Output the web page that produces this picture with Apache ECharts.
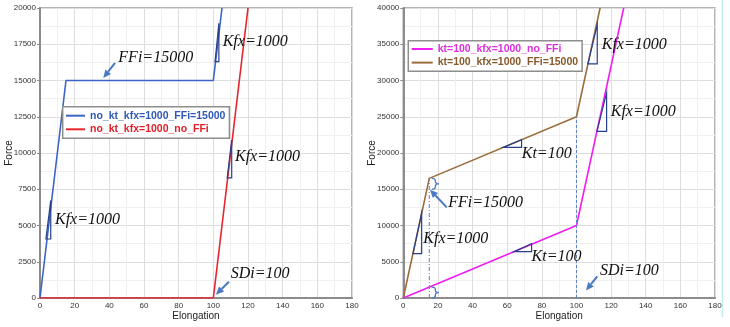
<!DOCTYPE html>
<html>
<head>
<meta charset="utf-8">
<script src="https://cdn.jsdelivr.net/npm/echarts@6/dist/echarts.min.js"></script>
<style>
  html, body { margin: 0; padding: 0; background: #fff; }
  #chart { width: 730px; height: 327px; }
</style>
</head>
<body>
<div id="chart"></div>
<script>
// ---- Force vs. elongation curves ----
const blueName = 'no_kt_kfx=1000_FFi=15000';
const blueElong = [0, 15, 100, 105];
const blueForce = [0, 15000, 15000, 20000];

const redName = 'no_kt_kfx=1000_no_FFi';
const redElong = [0, 100, 120];
const redForce = [0, 0, 20000];

const magentaName = 'kt=100_kfx=1000_no_FFi';
const magentaElong = [0, 100, 127.27];
const magentaForce = [0, 10000, 40000];

const brownName = 'kt=100_kfx=1000_FFi=15000';
const brownElong = [0, 15, 100, 113.64];
const brownForce = [0, 16500, 25000, 40000];

// ---- axis ranges ----
const elongMax = 180, elongStep = 20;
const leftForceMax = 20000, leftForceStep = 2500;
const rightForceMax = 40000, rightForceStep = 5000;

// ---- annotations, in (elongation, force) units ----
// slope triangles: [x0, y0, x1, y1]
const leftTriangles = [[3.4, 4070, 6.2, 6730], [101.0, 16300, 103.2, 18950], [108.0, 8280, 110.6, 10900]];
const rightTriangles = [[5.6, 6110, 10.6, 11720], [57.7, 20770, 68.3, 21830], [64.0, 6400, 74.1, 7500],
                        [106.6, 32280, 112.0, 37700], [111.8, 22980, 117.4, 28280]];
// text labels: [text, x, y]
const leftLabels = [['FFi=15000', 45.2, 16570], ['Kfx=1000', 105.4, 17680], ['Kfx=1000', 112.5, 9745],
                    ['Kfx=1000', 8.65, 5400], ['SDi=100', 110.0, 1676]];
const rightLabels = [['Kt=100', 68.4, 19900], ['Kt=100', 74.1, 5630], ['FFi=15000', 26.0, 13150],
                     ['Kfx=1000', 11.55, 8180], ['Kfx=1000', 114.6, 34870], ['Kfx=1000', 119.8, 25700],
                     ['SDi=100', 113.6, 3770]];
// arrows: [fromX, fromY, toX, toY]
const leftArrows = [[43.3, 16210, 36.5, 15170], [109.0, 1124, 101.5, 228]];
const rightArrows = [[25.1, 12500, 15.4, 14940], [112.0, 2980, 105.5, 1050]];
// dashed guides: [x, topForce]
const rightGuides = [[15, 16500, 'dashdot'], [100, 25000, 'dash']];
// braces: [x, lowForce, highForce]
const rightBraces = [[16.5, 15000, 16500], [16.5, 0, 1500]];

const zip = (xs, ys) => xs.map((x, i) => [x, ys[i]]);

const C = {
  blue: '#3c64c6', blueText: '#2f58b8',
  red: '#e8242c', redText: '#e0202a',
  magenta: '#f01ef0', magentaText: '#e02ee0',
  brown: '#9c6c3c', brownText: '#86592a',
  tri: '#27408c', arrow: '#4a78c2', guide: '#5a80c6'
};
const noteFont = 'italic 16px "Liberation Serif", "DejaVu Serif", serif';

function triangleRender(list) {
  return function (params, api) {
    const t = list[params.dataIndex];
    const a = api.coord([t[0], t[1]]), b = api.coord([t[2], t[1]]), c = api.coord([t[2], t[3]]);
    return { type: 'polygon', shape: { points: [a, b, c] },
             style: { fill: 'none', stroke: C.tri, lineWidth: 1.2 } };
  };
}
function labelRender(list) {
  return function (params, api) {
    const l = list[params.dataIndex];
    const p = api.coord([l[1], l[2]]);
    return { type: 'text', x: p[0], y: p[1],
             style: { text: l[0], font: noteFont, fill: '#111', align: 'left', verticalAlign: 'middle' } };
  };
}
function arrowRender(list) {
  return function (params, api) {
    const a = list[params.dataIndex];
    const p = api.coord([a[0], a[1]]), q = api.coord([a[2], a[3]]);
    const dx = q[0] - p[0], dy = q[1] - p[1], len = Math.hypot(dx, dy);
    const ux = dx / len, uy = dy / len, hl = 8, hw = 3.6;
    const bx = q[0] - ux * hl, by = q[1] - uy * hl;
    return { type: 'group', children: [
      { type: 'line', shape: { x1: p[0], y1: p[1], x2: bx, y2: by }, style: { stroke: C.arrow, lineWidth: 2 } },
      { type: 'polygon', shape: { points: [q, [bx - uy * hw, by + ux * hw], [bx + uy * hw, by - ux * hw]] },
        style: { fill: C.arrow } }
    ] };
  };
}
function guideRender(list) {
  return function (params, api) {
    const g = list[params.dataIndex];
    const p = api.coord([g[0], 0]), q = api.coord([g[0], g[1]]);
    return { type: 'line', shape: { x1: p[0], y1: p[1], x2: q[0], y2: q[1] },
             style: { stroke: C.guide, lineWidth: 1, lineDash: g[2] === 'dash' ? [3, 2] : [4, 2, 1, 2] } };
  };
}
function braceRender(list) {
  return function (params, api) {
    const b = list[params.dataIndex];
    const top = api.coord([b[0], b[2]]), bot = api.coord([b[0], b[1]]);
    const x0 = top[0], y0 = top[1], y1 = bot[1], w = 7, mid = (y0 + y1) / 2;
    const pts = [];
    const quad = (p0, c, p1) => { for (let i = 0; i <= 8; i++) { const t = i / 8, s = 1 - t;
      pts.push([s * s * p0[0] + 2 * s * t * c[0] + t * t * p1[0], s * s * p0[1] + 2 * s * t * c[1] + t * t * p1[1]]); } };
    const xm = x0 + w / 2;
    quad([x0, y0], [xm, y0], [xm, y0 + 2.5]);
    pts.push([xm, mid - 2.5]);
    quad([xm, mid - 2.5], [xm, mid], [x0 + w, mid]);
    quad([x0 + w, mid], [xm, mid], [xm, mid + 2.5]);
    pts.push([xm, y1 - 2.5]);
    quad([xm, y1 - 2.5], [xm, y1], [x0, y1]);
    return { type: 'polyline', shape: { points: pts }, style: { fill: 'none', stroke: C.arrow, lineWidth: 1.3 } };
  };
}

function noteSeries(idx, list, render, xyOf) {
  return { type: 'custom', xAxisIndex: idx, yAxisIndex: idx, silent: true, z: 5, clip: false,
           data: list.map(xyOf), encode: { x: 0, y: 1 }, renderItem: render(list) };
}

const plainNumber = v => String(v);

function xAxisFor(idx) {
  return {
    gridIndex: idx, type: 'value', min: 0, max: elongMax, interval: elongStep,
    name: 'Elongation', nameLocation: 'middle', nameGap: 13, nameMoveOverlap: false,
    nameTextStyle: { fontSize: 10, color: '#222', fontFamily: 'Liberation Sans' },
    axisLine: { show: true, onZero: false, lineStyle: { color: '#8c8c8c', width: 2 } },
    axisTick: { show: false },
    axisLabel: { fontSize: 8, color: '#333', margin: 4, fontFamily: 'Liberation Sans', formatter: plainNumber },
    splitLine: { show: true, lineStyle: { color: '#dedede', width: 1 } },
    minorTick: { show: false, splitNumber: 2 },
    minorSplitLine: { show: true, lineStyle: { color: '#f0f0f0', width: 1 } }
  };
}
function yAxisFor(idx, max, step) {
  return {
    gridIndex: idx, type: 'value', min: 0, max: max, interval: step,
    name: 'Force', nameLocation: 'middle', nameGap: 26, nameMoveOverlap: false,
    nameTextStyle: { fontSize: 10, color: '#222', fontFamily: 'Liberation Sans' },
    axisLine: { show: true, onZero: false, lineStyle: { color: '#8c8c8c', width: 2 } },
    axisTick: { show: true, length: 3, lineStyle: { color: '#8c8c8c' } },
    axisLabel: { fontSize: 8, color: '#333', margin: 4, fontFamily: 'Liberation Sans', formatter: plainNumber },
    splitLine: { show: true, lineStyle: { color: '#dedede', width: 1 } },
    minorTick: { show: false, splitNumber: 2 },
    minorSplitLine: { show: true, lineStyle: { color: '#f0f0f0', width: 1 } }
  };
}
function lineSeries(idx, name, xs, ys, color) {
  return { type: 'line', name: name, xAxisIndex: idx, yAxisIndex: idx, data: zip(xs, ys),
           symbol: 'none', lineStyle: { color: color, width: 1.6 }, itemStyle: { color: color }, z: 3 };
}
const legendBase = {
  orient: 'vertical', icon: 'rect', itemHeight: 2, itemGap: 1.6,
  backgroundColor: '#fff', borderColor: '#8e8e8e', borderWidth: 1.5, borderRadius: 0,
  textStyle: { fontSize: 10.5, fontWeight: 'bold', fontFamily: 'Liberation Sans', lineHeight: 12 }
};
const gridBase = { top: 8, height: 290, show: true, borderColor: '#9a9a9a', borderWidth: 1.5,
                   backgroundColor: '#fff', containLabel: false, outerBoundsMode: 'none' };

const chart = echarts.init(document.getElementById('chart'), null, { renderer: 'canvas' });
chart.setOption({
  backgroundColor: '#fff',
  animation: false,
  grid: [
    Object.assign({ left: 40, width: 312 }, gridBase),
    Object.assign({ left: 403.3, width: 311.7 }, gridBase)
  ],
  xAxis: [xAxisFor(0), xAxisFor(1)],
  yAxis: [yAxisFor(0, leftForceMax, leftForceStep), yAxisFor(1, rightForceMax, rightForceStep)],
  legend: [
    Object.assign({}, legendBase, {
      left: 62.7, top: 106.7, padding: [3, 4, 3, 3.3], itemWidth: 19,
      data: [{ name: blueName, textStyle: { color: C.blueText } }, { name: redName, textStyle: { color: C.redText } }]
    }),
    Object.assign({}, legendBase, {
      left: 408.3, top: 40.7, padding: [2.3, 4, 2.7, 3.4], itemWidth: 21,
      data: [{ name: magentaName, textStyle: { color: C.magentaText } }, { name: brownName, textStyle: { color: C.brownText } }]
    })
  ],
  graphic: [
    { type: 'line', shape: { x1: 722.5, y1: 0, x2: 722.5, y2: 317 }, style: { stroke: '#bfeef2', lineWidth: 1.5 } }
  ],
  series: [
    lineSeries(0, blueName, blueElong, blueForce, C.blue),
    lineSeries(0, redName, redElong, redForce, C.red),
    lineSeries(1, magentaName, magentaElong, magentaForce, C.magenta),
    lineSeries(1, brownName, brownElong, brownForce, C.brown),
    noteSeries(1, rightGuides, guideRender, g => [g[0], g[1]]),
    noteSeries(1, rightBraces, braceRender, b => [b[0], b[1]]),
    noteSeries(0, leftTriangles, triangleRender, t => [t[0], t[1]]),
    noteSeries(1, rightTriangles, triangleRender, t => [t[0], t[1]]),
    noteSeries(0, leftArrows, arrowRender, a => [a[2], a[3]]),
    noteSeries(1, rightArrows, arrowRender, a => [a[2], a[3]]),
    noteSeries(0, leftLabels, labelRender, l => [l[1], l[2]]),
    noteSeries(1, rightLabels, labelRender, l => [l[1], l[2]])
  ]
});
</script>
</body>
</html>
